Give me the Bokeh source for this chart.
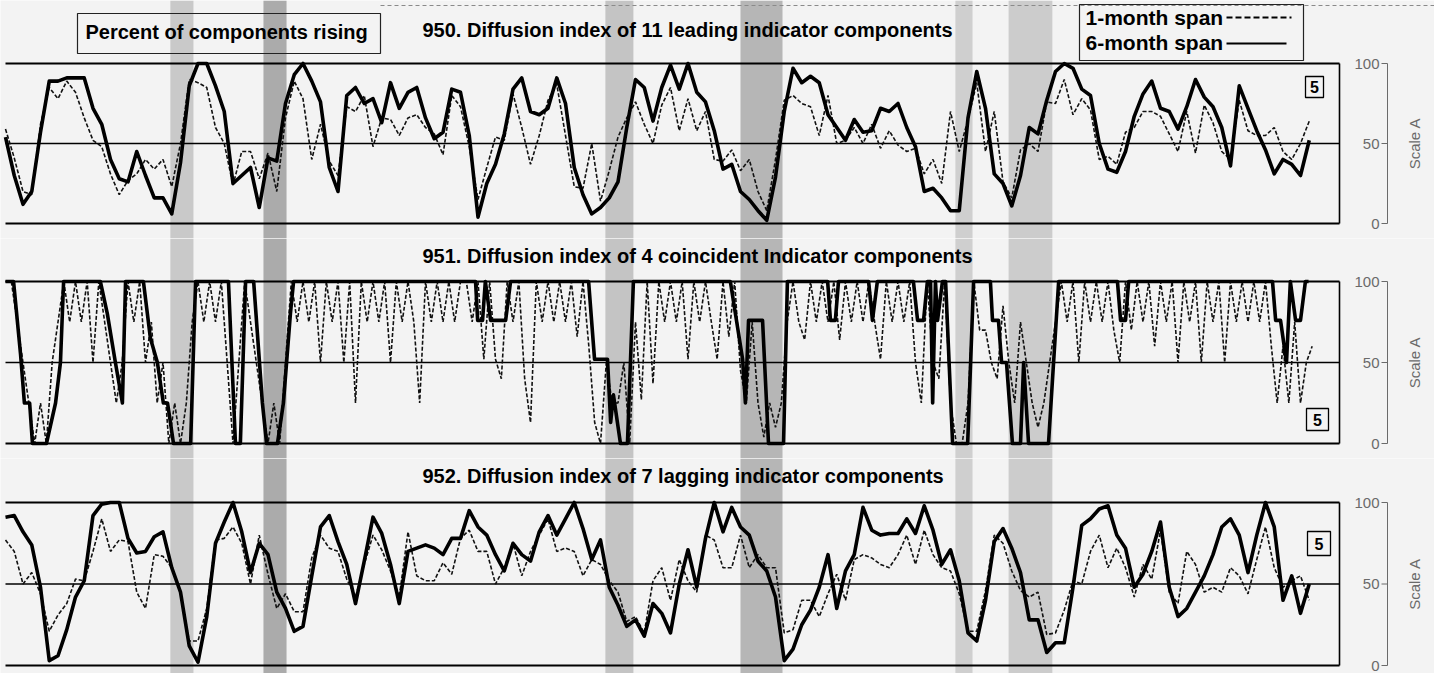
from math import pi
from bokeh.plotting import figure
from bokeh.layouts import column
from bokeh.embed import file_html
from bokeh.resources import INLINE
from bokeh.core.properties import value

# ---------------- data ----------------
START = 1952.75          # first observation, decimal year
QUARTER = 0.25
BIMONTH = 1.0 / 6.0

recession_start = [1957.46, 1960.12, 1969.89, 1973.75, 1979.89, 1981.41]
recession_end = [1958.12, 1960.78, 1970.69, 1974.95, 1980.38, 1982.66]

scale_ticks = [0, 50, 100]

titles = ["950. Diffusion index of 11 leading indicator components",
          "951. Diffusion index of 4 coincident Indicator components",
          "952. Diffusion index of 7 lagging indicator components"]
legend_labels = ["1-month span", "6-month span"]
box_label = "Percent of components rising"
chart_number = "5"

# 950 leading, quarterly readings
lead_6m = [54, 30, 12, 20, 57, 89, 89, 91, 91, 91,
           72, 62, 40, 28, 26, 45, 30, 16, 16, 6,
           38, 86, 100, 100, 86, 70, 25, 30, 35, 10,
           41, 39, 75, 93, 100, 89, 76, 35, 20, 80,
           85, 75, 78, 63, 88, 72, 82, 85, 66, 53,
           57, 84, 82, 55, 4, 25, 37, 56, 84, 91,
           70, 68, 72, 91, 75, 35, 18, 6, 10, 16,
           26, 60, 90, 85, 64, 85, 99, 84, 100, 82,
           76, 58, 34, 37, 20, 15, 8, 2, 29, 70,
           97, 88, 92, 88, 68, 60, 52, 65, 57, 58,
           72, 70, 75, 60, 48, 20, 22, 16, 8, 8,
           66, 95, 72, 31, 25, 11, 30, 60, 56, 77,
           95, 100, 97, 84, 80, 50, 34, 32, 45, 67,
           81, 89, 72, 70, 59, 73, 90, 79, 73, 60,
           36, 86, 72, 58, 46, 31, 40, 37, 30, 52]
lead_1m = [59, 41, 20, 18, 62, 85, 78, 89, 82, 66,
           52, 48, 31, 18, 27, 31, 40, 34, 40, 23,
           50, 90, 88, 85, 60, 50, 24, 45, 45, 28,
           44, 20, 66, 89, 78, 40, 62, 39, 30, 73,
           70, 80, 48, 66, 65, 55, 66, 68, 60, 56,
           43, 80, 73, 48, 15, 35, 54, 52, 81, 60,
           37, 55, 77, 87, 55, 23, 22, 50, 14, 33,
           54, 66, 76, 62, 50, 74, 85, 58, 78, 58,
           70, 40, 39, 46, 33, 40, 20, 8, 40, 77,
           80, 75, 73, 55, 80, 50, 52, 60, 50, 62,
           47, 58, 49, 45, 47, 31, 40, 25, 70, 45,
           65, 88, 45, 70, 26, 16, 46, 50, 45, 76,
           75, 90, 68, 78, 71, 40, 42, 37, 57, 60,
           70, 70, 67, 56, 45, 70, 44, 74, 63, 45,
           40, 77, 58, 55, 55, 60, 45, 40, 50, 64]

# 951 coincident: 6-month span as turning points, 1-month span bimonthly
coin_6m_dates = [1952.75, 1952.98, 1953.18, 1953.29, 1953.44, 1953.52, 1953.92, 1954.18, 1954.32, 1954.41,
                 1955.46, 1955.66, 1955.89, 1956.09, 1956.18, 1956.69, 1956.89, 1957.09, 1957.26, 1957.38,
                 1957.55, 1958.04, 1958.18, 1959.12, 1959.32, 1959.46, 1959.61, 1959.84, 1960.09, 1960.21,
                 1960.52, 1960.69, 1960.89, 1960.98, 1966.18, 1966.24, 1966.38, 1966.46, 1966.61, 1967.04,
                 1967.18, 1969.41, 1969.58, 1969.95, 1970.04, 1970.12, 1970.32, 1970.52, 1970.69, 1973.46,
                 1973.81, 1973.89, 1973.98, 1974.38, 1974.55, 1974.98, 1975.09, 1976.24, 1976.32, 1976.46,
                 1976.55, 1977.41, 1977.52, 1977.66, 1978.69, 1978.81, 1978.98, 1979.09, 1979.18, 1979.24,
                 1979.32, 1979.38, 1979.52, 1979.61, 1979.81, 1980.24, 1980.41, 1980.89, 1980.95, 1981.12,
                 1981.21, 1981.35, 1981.52, 1981.75, 1981.84, 1981.98, 1982.55, 1982.84, 1984.52, 1984.61,
                 1984.75, 1984.84, 1988.95, 1989.04, 1989.18, 1989.35, 1989.46, 1989.61, 1989.75, 1989.89,
                 1989.98]
coin_6m = [100, 100, 55, 25, 25, 0, 0, 25, 50, 100,
           100, 80, 50, 25, 100, 100, 65, 50, 25, 25,
           0, 0, 100, 100, 0, 0, 100, 100, 25, 0,
           0, 25, 80, 100, 100, 76, 76, 100, 76, 76,
           100, 100, 52, 52, 13, 30, 0, 0, 100, 100,
           52, 25, 76, 76, 0, 0, 100, 100, 76, 76,
           100, 100, 76, 100, 100, 76, 76, 100, 100, 25,
           100, 76, 100, 100, 0, 0, 100, 100, 76, 76,
           50, 50, 0, 0, 50, 0, 0, 100, 100, 76,
           76, 100, 100, 76, 76, 50, 100, 76, 76, 100,
           100]
coin_1m = [100, 100, 75, 50, 25, 0, 25, 0, 50, 75,
           100, 75, 100, 75, 100, 50, 100, 75, 50, 25,
           50, 100, 75, 100, 50, 75, 25, 50, 0, 25,
           0, 25, 75, 100, 75, 100, 75, 100, 50, 0,
           50, 100, 75, 50, 25, 0, 25, 0, 50, 100,
           75, 100, 75, 100, 50, 100, 75, 100, 50, 100,
           25, 100, 75, 100, 75, 100, 50, 100, 75, 100,
           75, 25, 100, 75, 100, 75, 100, 75, 100, 100,
           75, 100, 52, 100, 52, 40, 100, 75, 100, 40,
           13, 100, 75, 100, 75, 100, 75, 100, 66, 100,
           60, 13, 0, 50, 25, 25, 50, 0, 75, 27,
           100, 37, 100, 75, 100, 75, 100, 52, 100, 75,
           100, 75, 52, 100, 66, 100, 45, 25, 75, 25,
           4, 25, 10, 25, 75, 100, 75, 64, 100, 75,
           100, 75, 100, 64, 100, 75, 100, 75, 100, 75,
           52, 100, 75, 100, 75, 100, 50, 25, 100, 50,
           40, 100, 25, 0, 0, 25, 100, 70, 70, 50,
           40, 85, 50, 25, 75, 50, 25, 10, 25, 50,
           75, 100, 75, 100, 50, 100, 75, 100, 75, 100,
           70, 50, 100, 70, 100, 75, 100, 60, 100, 75,
           100, 50, 100, 75, 100, 50, 100, 75, 100, 50,
           100, 75, 100, 75, 100, 75, 100, 60, 25, 60,
           25, 75, 25, 50, 60]

# 952 lagging, quarterly readings
lag_6m = [91, 92, 82, 74, 48, 3, 6, 22, 42, 52,
          92, 99, 100, 100, 78, 69, 70, 79, 82, 60,
          45, 12, 2, 30, 75, 88, 100, 82, 57, 75,
          68, 45, 35, 21, 24, 55, 85, 92, 76, 62,
          38, 64, 91, 81, 62, 38, 70, 72, 74, 72,
          68, 78, 78, 95, 85, 80, 68, 58, 75, 68,
          64, 82, 92, 80, 90, 100, 84, 65, 77, 48,
          37, 24, 28, 18, 38, 32, 20, 50, 71, 48,
          78, 100, 82, 97, 85, 80, 64, 58, 42, 3,
          10, 25, 34, 48, 68, 35, 58, 68, 97, 83,
          80, 81, 81, 90, 81, 98, 83, 62, 71, 52,
          20, 15, 40, 76, 84, 72, 57, 28, 28, 8,
          14, 14, 48, 86, 90, 96, 98, 80, 72, 48,
          56, 70, 88, 48, 30, 35, 45, 55, 68, 85,
          90, 80, 57, 80, 100, 85, 40, 55, 32, 50]
lag_1m = [77, 70, 50, 57, 44, 21, 31, 38, 53, 52,
          70, 90, 70, 77, 76, 45, 35, 68, 67, 60,
          45, 15, 15, 35, 77, 78, 85, 75, 50, 80,
          56, 35, 44, 33, 33, 66, 80, 72, 70, 53,
          42, 62, 80, 71, 58, 42, 82, 55, 52, 52,
          63, 56, 78, 83, 70, 70, 50, 60, 75, 55,
          70, 80, 90, 70, 72, 70, 55, 65, 62, 52,
          45, 27, 30, 20, 52, 60, 40, 65, 52, 45,
          80, 77, 60, 60, 80, 60, 68, 60, 60, 20,
          22, 40, 40, 30, 44, 56, 40, 65, 68, 66,
          62, 60, 68, 80, 62, 83, 68, 60, 58, 44,
          21, 21, 46, 80, 75, 58, 46, 42, 45, 19,
          20, 34, 52, 50, 70, 80, 60, 72, 60, 42,
          62, 53, 83, 45, 38, 70, 62, 45, 48, 45,
          60, 55, 44, 65, 85, 60, 48, 52, 55, 40]

q_dates = [START + QUARTER * i for i in range(len(lead_6m))]
b_dates = [START + BIMONTH * i for i in range(len(coin_1m))]

# ---------------- layout helpers (pixel placement of decorations) ----------------
PX_PER_YEAR = 35.0
W = 1434
def X(px):            # picture x pixel -> decimal year
    return START + (px - 5) / PX_PER_YEAR
XS, XE = X(0), X(W)

BG = "#f3f3f3"
BAND_COLORS = ["#c9c9c9", "#ababab", "#c4c4c4", "#b6b6b6", "#cfcfcf", "#cccccc"]
HEAD = "Liberation Sans"
SCALE_FONT = "Liberation Sans"
SCALE_GREY = "#6a6a6a"


def make_panel(top_py, height, zero_py, hundred_py, title, title_base_py, box_py,
               dates_1m, vals_1m, dates_6m, vals_6m):
    ppu = (zero_py - hundred_py) / 100.0
    def Y(py):
        return (zero_py - py) / ppu
    y0, y1 = Y(top_py + height), Y(top_py)
    p = figure(width=W, height=height, x_range=(XS, XE), y_range=(y0, y1),
               output_backend="svg", toolbar_location=None,
               x_axis_location=None, y_axis_location=None, min_border=0,
               background_fill_color=BG, border_fill_color=BG, outline_line_color=None)
    p.xgrid.visible = False
    p.ygrid.visible = False

    # recession shading
    p.quad(left=recession_start, right=recession_end, bottom=y0, top=y1,
           fill_color=BAND_COLORS, line_color=None)

    # frame lines at 0 / 50 / 100 and right border
    p.segment(x0=X(5), y0=scale_ticks, x1=X(1339), y1=scale_ticks,
              line_color="black", line_width=[2.2, 1.6, 2.2])
    p.segment(x0=X(1339), y0=0, x1=X(1339), y1=100, line_color="black", line_width=1.6)

    # series
    p.line(dates_1m, vals_1m, line_color="#111111", line_width=1.6, line_dash="4 2")
    p.line(dates_6m, vals_6m, line_color="black", line_width=3.6, line_join="round")

    # right-hand scale
    p.segment(x0=X(1387), y0=0, x1=X(1387), y1=100, line_color=SCALE_GREY, line_width=1)
    p.segment(x0=X(1381), y0=scale_ticks, x1=X(1387), y1=scale_ticks,
              line_color=SCALE_GREY, line_width=1)
    p.text(x=X(1379), y=scale_ticks, text=[str(t) for t in scale_ticks],
           text_align="right", text_baseline="middle", text_font=value(SCALE_FONT),
           text_font_size="15px", text_color=SCALE_GREY)
    p.text(x=[X(1414)], y=[50], text=["Scale A"], angle=pi / 2,
           text_align="center", text_baseline="middle", text_font=value(SCALE_FONT),
           text_font_size="15px", text_color=SCALE_GREY)

    # title
    p.text(x=[X(422)], y=[Y(title_base_py)], text=[title], text_align="left",
           text_baseline="alphabetic", text_font=value(HEAD), text_font_style="bold",
           text_font_size="20px", text_color="black")

    # numbered box
    bl, br, bt, bb = box_py
    p.quad(left=X(bl), right=X(br), top=Y(bt), bottom=Y(bb), fill_color=None,
           line_color="black", line_width=1.3)
    p.text(x=[X((bl + br) / 2)], y=[Y((bt + bb) / 2)], text=[chart_number],
           text_align="center", text_baseline="middle", text_font=value(HEAD),
           text_font_style="bold", text_font_size="16px", text_color="black")
    return p, Y


p1, Y1 = make_panel(0, 238, 223, 63, titles[0], 29.5, (1305, 1323, 76, 97),
                    q_dates, lead_1m, q_dates, lead_6m)
p2, Y2 = make_panel(238, 220, 443, 281, titles[1], 255.5, (1306, 1328, 408, 430),
                    b_dates, coin_1m, coin_6m_dates, coin_6m)
p3, Y3 = make_panel(458, 215, 665, 502, titles[2], 475.5, (1307, 1330, 531, 555),
                    q_dates, lag_1m, q_dates, lag_6m)

# faint scan edge along the top
p1.segment(x0=X(380), y0=Y1(5), x1=X(1434), y1=Y1(5), line_color="#8a8a8a",
           line_width=1, line_dash="4 3")

# "Percent of components rising" box
p1.quad(left=X(77), right=X(380), top=Y1(13), bottom=Y1(53), fill_color=None,
        line_color="#222222", line_width=1.2)
p1.text(x=[X(85)], y=[Y1(31.5)], text=[box_label], text_align="left",
        text_baseline="alphabetic", text_font=value(HEAD), text_font_style="bold",
        text_font_size="20px", text_color="black")

# legend box
p1.quad(left=X(1079), right=X(1303), top=Y1(4), bottom=Y1(60), fill_color=None,
        line_color="#222222", line_width=1.2)
p1.text(x=[X(1085), X(1085)], y=[Y1(17), Y1(42)], text=legend_labels, text_align="left",
        text_baseline="alphabetic", text_font=value(HEAD), text_font_style="bold",
        text_font_size="21px", text_color="black")
p1.segment(x0=X(1226), y0=Y1(17), x1=X(1291), y1=Y1(17), line_color="black",
           line_width=2, line_dash="6 3")
p1.segment(x0=X(1226), y0=Y1(43), x1=X(1286), y1=Y1(43), line_color="black",
           line_width=2)

layout = column(p1, p2, p3, spacing=0)
open("out.html", "w").write(file_html(layout, INLINE))
